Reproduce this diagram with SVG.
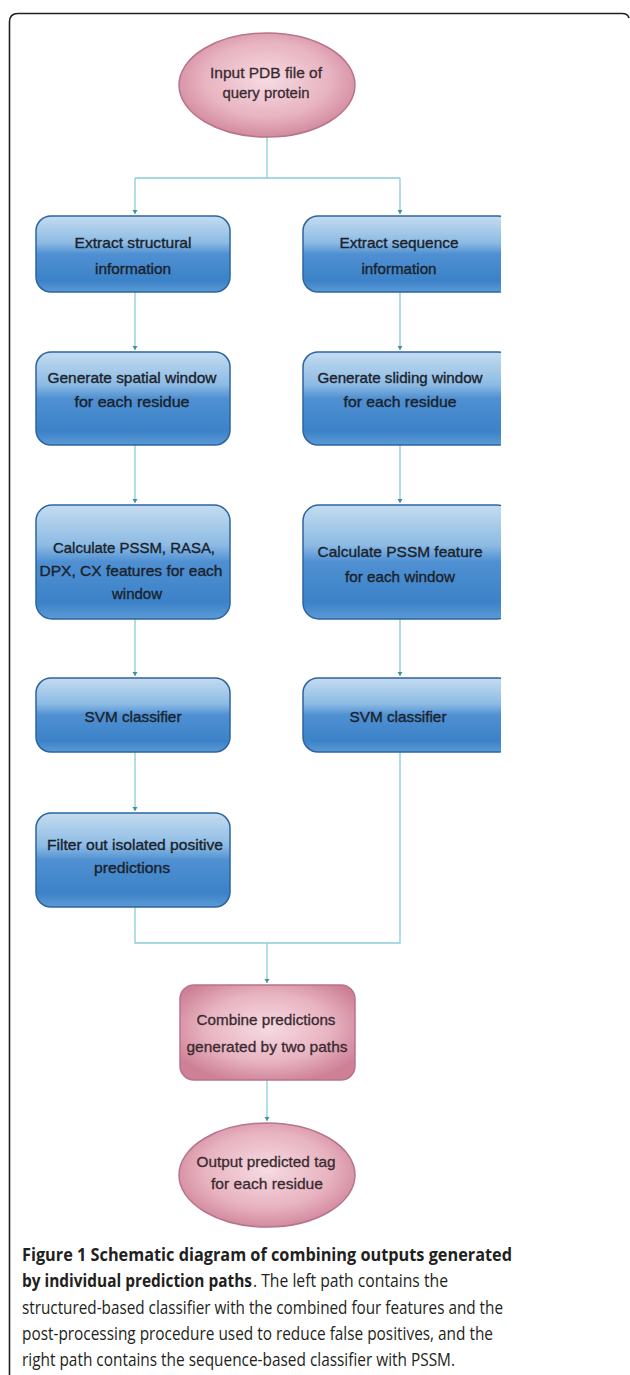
<svg xmlns="http://www.w3.org/2000/svg" width="630" height="1375" viewBox="0 0 630 1375">
<defs>
<style>
.lbl{font-family:"Liberation Sans",Arial,sans-serif;font-size:15px;fill:#1a222c;stroke:#1a222c;stroke-width:0.35;text-anchor:middle;}
.plbl{font-family:"Liberation Sans",Arial,sans-serif;font-size:15px;fill:#3a2a30;stroke:#3a2a30;stroke-width:0.3;text-anchor:middle;}
.box{fill:url(#blueG);stroke:#2d64a0;stroke-width:1.5;}
.pbox{fill:url(#pinkR);stroke:#b8748a;stroke-width:1.5;}
.conn{fill:none;stroke:#8ccbd6;stroke-width:1.3;}
.cap{font-family:"Open Sans","Noto Sans",sans-serif;font-size:18.5px;fill:#231f20;}
.capb{font-weight:bold;}
</style>
<linearGradient id="blueG" x1="0" y1="0" x2="0" y2="1">
<stop offset="0" stop-color="#c4dcf0"/>
<stop offset="0.35" stop-color="#8dbbe4"/>
<stop offset="0.5" stop-color="#4f90d2"/>
<stop offset="0.85" stop-color="#3c82c8"/>
<stop offset="1" stop-color="#5b9ad4"/>
</linearGradient>
<radialGradient id="pinkR" cx="0.5" cy="0.45" r="0.6">
<stop offset="0" stop-color="#f6dbe2"/>
<stop offset="0.6" stop-color="#e8b3c1"/>
<stop offset="1" stop-color="#cd8096"/>
</radialGradient>
<clipPath id="cr"><rect x="0" y="0" width="501" height="1375"/></clipPath>
</defs>
<rect width="630" height="1375" fill="#ffffff"/>
<path d="M9.5,1375 L9.5,22 Q9.5,13.5 18,13.5 L622,13.5 Q628,13.5 629,18" fill="none" stroke="#231f20" stroke-width="1.6"/>

<g id="connectors">
<path class="conn" d="M267,137 V178 M135,178 H400 M135,178 V214 M400,178 V214"/>
<path class="conn" d="M135,292 V350 M400,292 V350"/>
<path class="conn" d="M135,445 V503 M400,445 V503"/>
<path class="conn" d="M135,619 V676 M400,619 V676"/>
<path class="conn" d="M135,752 V811"/>
<path class="conn" d="M135,907 V943 H400 V752 M267,943 V983"/>
<path class="conn" d="M267,1080 V1121"/>
<g fill="#3f8f9c">
<path d="M132.5,210 h5 l-2.5,4 z M397.5,210 h5 l-2.5,4 z"/>
<path d="M132.5,346 h5 l-2.5,4 z M397.5,346 h5 l-2.5,4 z"/>
<path d="M132.5,499 h5 l-2.5,4 z M397.5,499 h5 l-2.5,4 z"/>
<path d="M132.5,672 h5 l-2.5,4 z M397.5,672 h5 l-2.5,4 z"/>
<path d="M132.5,807 h5 l-2.5,4 z"/>
<path d="M264.5,979 h5 l-2.5,4 z"/>
<path d="M264.5,1117 h5 l-2.5,4 z"/>
</g>
</g>

<g id="n-input">
<ellipse class="pbox" cx="267" cy="85" rx="88" ry="52"/>
<text class="plbl" x="266" y="78" textLength="112" lengthAdjust="spacingAndGlyphs">Input PDB file of</text>
<text class="plbl" x="266" y="98" textLength="87" lengthAdjust="spacingAndGlyphs">query protein</text>
</g>

<g id="n-struct">
<rect class="box" x="36" y="216" width="194" height="76" rx="15"/>
<text class="lbl" x="133" y="248" textLength="117" lengthAdjust="spacingAndGlyphs">Extract structural</text>
<text class="lbl" x="133" y="274" textLength="76" lengthAdjust="spacingAndGlyphs">information</text>
</g>
<g id="n-seq" clip-path="url(#cr)">
<rect class="box" x="303" y="216" width="210" height="76" rx="15"/>
<text class="lbl" x="399" y="248" textLength="119" lengthAdjust="spacingAndGlyphs">Extract sequence</text>
<text class="lbl" x="399" y="274" textLength="75" lengthAdjust="spacingAndGlyphs">information</text>
</g>

<g id="n-spatial">
<rect class="box" x="36" y="352" width="194" height="93" rx="15"/>
<text class="lbl" x="132" y="383" textLength="169" lengthAdjust="spacingAndGlyphs">Generate spatial window</text>
<text class="lbl" x="132" y="407" textLength="115" lengthAdjust="spacingAndGlyphs">for each residue</text>
</g>
<g id="n-sliding" clip-path="url(#cr)">
<rect class="box" x="303" y="352" width="210" height="93" rx="15"/>
<text class="lbl" x="400" y="383" textLength="165" lengthAdjust="spacingAndGlyphs">Generate sliding window</text>
<text class="lbl" x="400" y="407" textLength="113" lengthAdjust="spacingAndGlyphs">for each residue</text>
</g>

<g id="n-calc4">
<rect class="box" x="36" y="505" width="194" height="114" rx="16"/>
<text class="lbl" x="134" y="553" textLength="162" lengthAdjust="spacingAndGlyphs">Calculate PSSM, RASA,</text>
<text class="lbl" x="131" y="576" textLength="183" lengthAdjust="spacingAndGlyphs">DPX, CX features for each</text>
<text class="lbl" x="137" y="599">window</text>
</g>
<g id="n-calcpssm" clip-path="url(#cr)">
<rect class="box" x="303" y="505" width="210" height="114" rx="16"/>
<text class="lbl" x="400" y="557" textLength="165" lengthAdjust="spacingAndGlyphs">Calculate PSSM feature</text>
<text class="lbl" x="400" y="582" textLength="110" lengthAdjust="spacingAndGlyphs">for each window</text>
</g>

<g id="n-svm1">
<rect class="box" x="36" y="678" width="194" height="74" rx="15"/>
<text class="lbl" x="133" y="722" textLength="97" lengthAdjust="spacingAndGlyphs">SVM classifier</text>
</g>
<g id="n-svm2" clip-path="url(#cr)">
<rect class="box" x="303" y="678" width="210" height="74" rx="15"/>
<text class="lbl" x="398" y="722" textLength="97" lengthAdjust="spacingAndGlyphs">SVM classifier</text>
</g>

<g id="n-filter">
<rect class="box" x="36" y="813" width="194" height="94" rx="15"/>
<text class="lbl" x="135" y="850" textLength="176" lengthAdjust="spacingAndGlyphs">Filter out isolated positive</text>
<text class="lbl" x="132" y="873" textLength="76" lengthAdjust="spacingAndGlyphs">predictions</text>
</g>

<g id="n-combine">
<rect class="pbox" x="180" y="985" width="175" height="95" rx="14"/>
<text class="plbl" x="266" y="1025" textLength="139" lengthAdjust="spacingAndGlyphs">Combine predictions</text>
<text class="plbl" x="267" y="1052" textLength="161" lengthAdjust="spacingAndGlyphs">generated by two paths</text>
</g>

<g id="n-output">
<ellipse class="pbox" cx="267" cy="1175" rx="88" ry="52"/>
<text class="plbl" x="266" y="1167" textLength="139" lengthAdjust="spacingAndGlyphs">Output predicted tag</text>
<text class="plbl" x="267" y="1189" textLength="112" lengthAdjust="spacingAndGlyphs">for each residue</text>
</g>

<g id="caption">
<text class="cap capb" x="22" y="1261" textLength="490" lengthAdjust="spacingAndGlyphs">Figure 1 Schematic diagram of combining outputs generated</text>
<text class="cap capb" x="22" y="1287" textLength="230" lengthAdjust="spacingAndGlyphs">by individual prediction paths</text>
<text class="cap" x="253" y="1287" textLength="195" lengthAdjust="spacingAndGlyphs">. The left path contains the</text>
<text class="cap" x="22" y="1314" textLength="481" lengthAdjust="spacingAndGlyphs">structured-based classifier with the combined four features and the</text>
<text class="cap" x="22" y="1340" textLength="471" lengthAdjust="spacingAndGlyphs">post-processing procedure used to reduce false positives, and the</text>
<text class="cap" x="22" y="1366" textLength="433" lengthAdjust="spacingAndGlyphs">right path contains the sequence-based classifier with PSSM.</text>
</g>
</svg>
